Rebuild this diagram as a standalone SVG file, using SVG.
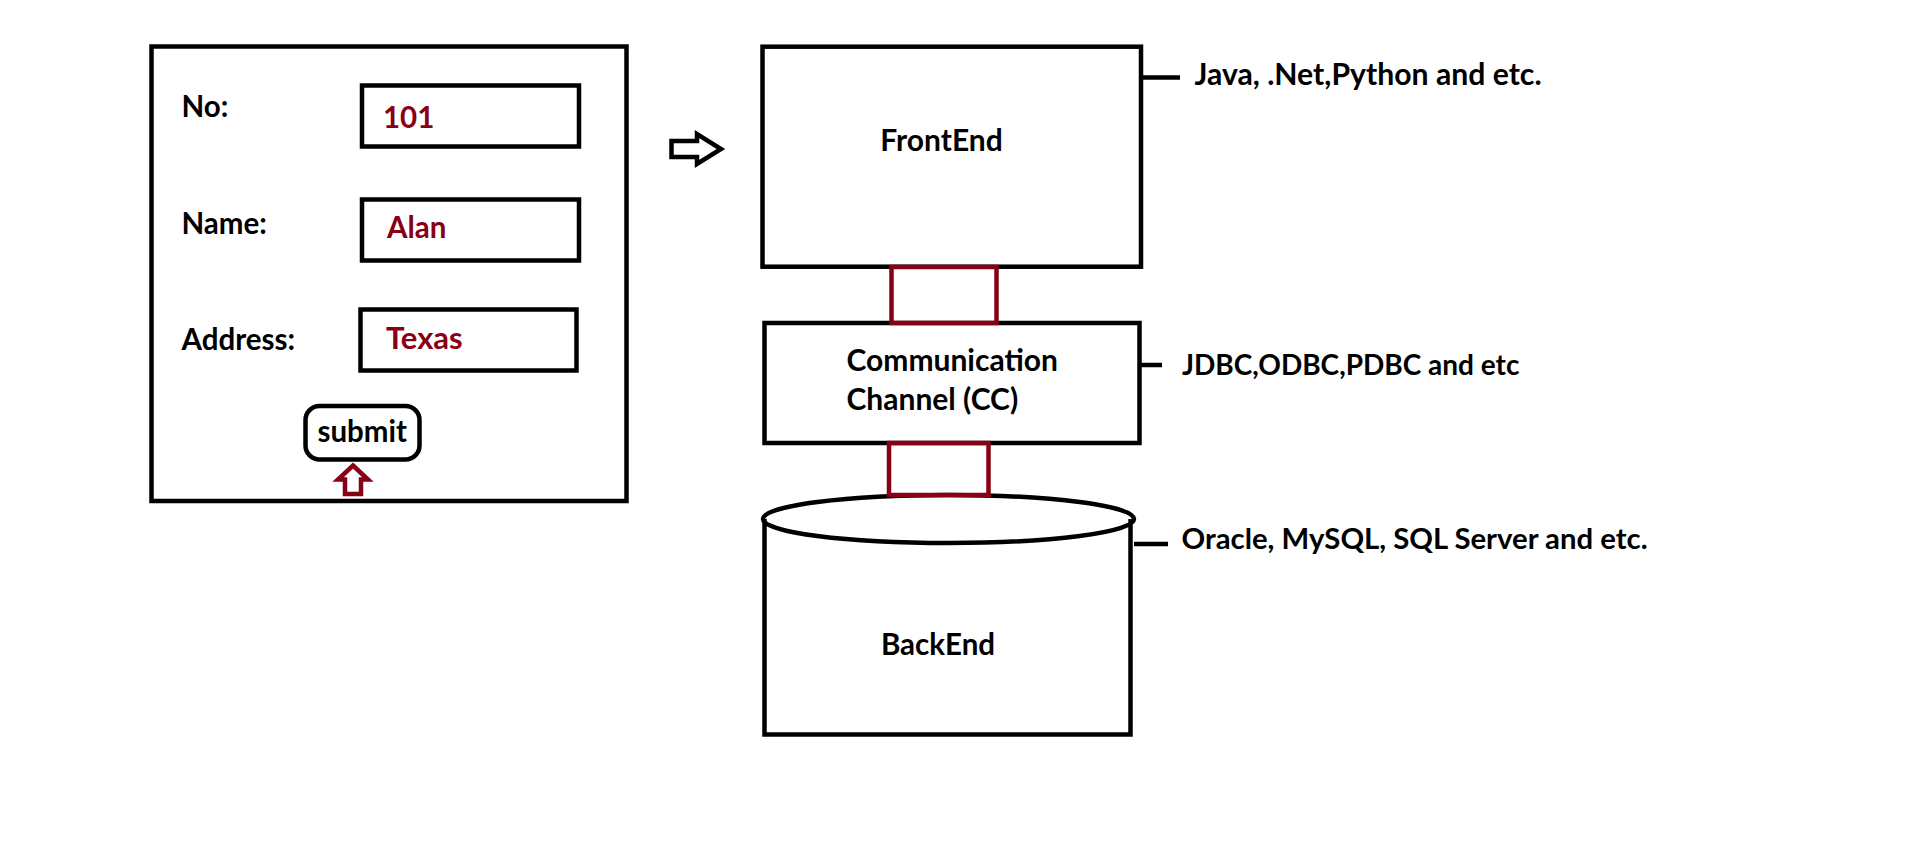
<svg xmlns="http://www.w3.org/2000/svg" width="1914" height="867" viewBox="0 0 1914 867">
<style>
.box{fill:none;stroke:#000;stroke-width:4.5}
.red{fill:none;stroke:#880015;stroke-width:4.5}
.t{font-family:Lato,"Open Sans",sans-serif;font-weight:bold;font-size:29.5px;fill:#000}
.v{font-family:Lato,"Open Sans",sans-serif;font-weight:bold;font-size:29.5px;fill:#880015}
.n{font-size:30px}
.tick{stroke:#000;stroke-width:4.5;fill:none}
</style>
<rect width="1914" height="867" fill="#fff"/>
<g id="form">
<rect class="box" x="151.5" y="46.5" width="475" height="454.5"/>
<text class="t" x="181.5" y="117">No:</text>
<text class="t" x="181.5" y="234">Name:</text>
<text class="t" x="181.5" y="350">Address:</text>
<g id="field-no"><rect class="box" x="362" y="85.5" width="217" height="61"/><text class="v" x="383" y="128">101</text></g>
<g id="field-name"><rect class="box" x="362" y="199.5" width="217" height="61"/><text class="v" x="387" y="238">Alan</text></g>
<g id="field-address"><rect class="box" x="360.5" y="309.5" width="216" height="61"/><text class="v" x="386" y="348.5" style="font-size:31px">Texas</text></g>
<g id="submit"><rect class="box" x="305.5" y="406" width="114" height="53.5" rx="14"/><text class="t" x="317.5" y="442">submit</text></g>
<path class="red" d="M353,465.5 L368,479.5 L361,479.5 L361,494 L345,494 L345,479.5 L338,479.5 Z"/>
</g>
<g id="arrow">
<path class="box" d="M671.5,141 L697,141 L697,134 L721,149 L697,164 L697,157 L671.5,157 Z"/>
</g>
<g id="frontend">
<rect class="box" x="762.5" y="46.7" width="378.5" height="220"/>
<text class="t n" x="941.5" y="151" text-anchor="middle">FrontEnd</text>
</g>
<g id="cc">
<rect class="box" x="764.5" y="323" width="375" height="120"/>
<text class="t n" x="846.5" y="371">Communication</text>
<text class="t n" x="846.5" y="410">Channel (CC)</text>
</g>
<g id="backend">
<path class="box" d="M764.5,519 L764.5,734.5 L1130.5,734.5 L1130.5,519"/>
<ellipse class="box" cx="948.5" cy="519" rx="185.5" ry="24"/>
<text class="t" x="938" y="655" text-anchor="middle">BackEnd</text>
</g>
<g id="connectors">
<rect class="red" x="891.5" y="267" width="105" height="56"/>
<rect class="red" x="889" y="443" width="99.5" height="52"/>
<line class="tick" x1="1143" y1="77.5" x2="1180" y2="77.5"/>
<line class="tick" x1="1141" y1="365" x2="1162" y2="365"/>
<line class="tick" x1="1134" y1="544" x2="1168" y2="544"/>
</g>
<g id="labels">
<text class="t" x="1194.5" y="84.5" style="font-size:30.2px">Java, .Net,Python and etc.</text>
<text class="t" x="1182" y="374.5" style="font-size:28px">JDBC,ODBC,PDBC and etc</text>
<text class="t" x="1181.5" y="549" style="font-size:29.3px">Oracle, MySQL, SQL Server and etc.</text>
</g>
</svg>
